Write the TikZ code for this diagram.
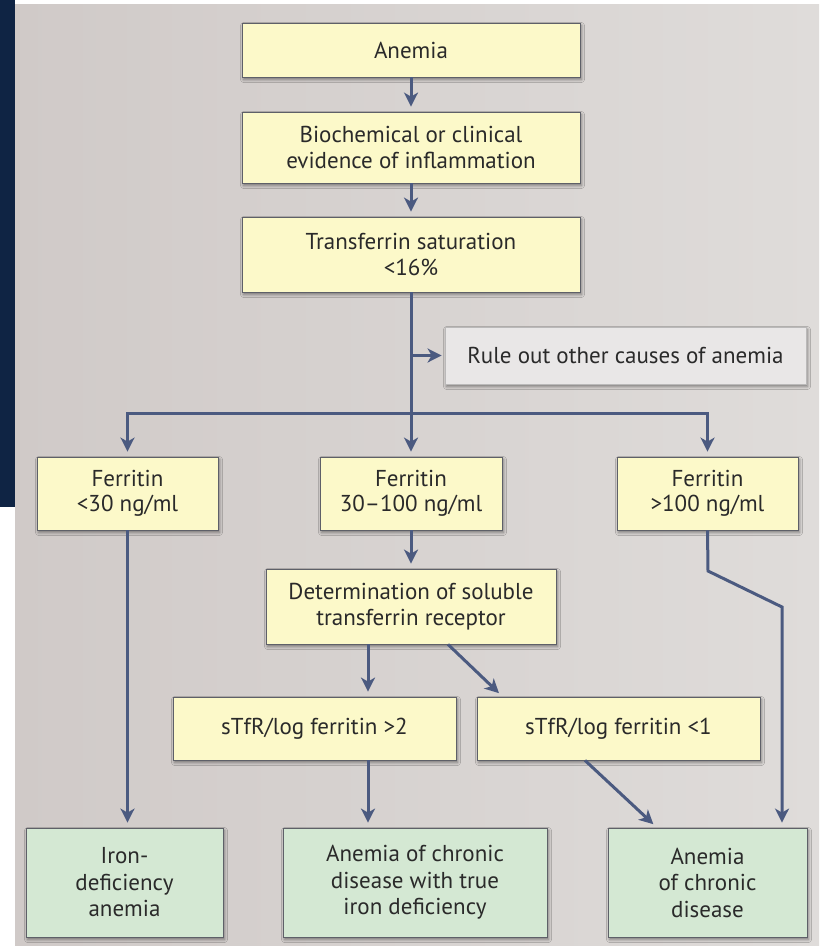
\documentclass[tikz,border=0pt]{standalone}
\usepackage{fontspec}
\setmainfont{PT Sans}
\usetikzlibrary{arrows.meta,shadows.blur}
\definecolor{navy}{HTML}{0F2444}
\definecolor{bgl}{HTML}{D0CAC8}
\definecolor{bgr}{HTML}{DFDCDA}
\definecolor{yel}{HTML}{FCF9C9}
\definecolor{grn}{HTML}{D4E8D3}
\definecolor{rulebg}{HTML}{E9E7E7}
\definecolor{edge}{HTML}{4B5A80}
\definecolor{bord}{HTML}{5E6068}
\definecolor{txt}{HTML}{2A2A2A}
\tikzset{
  box/.style={draw=bord, line width=0.8pt, fill=yel, text=txt, align=center,
    inner sep=0pt, font=\fontsize{23}{25.5}\selectfont,
    blur shadow={shadow xshift=1.5pt, shadow yshift=-2.5pt, shadow blur radius=3pt, shadow opacity=45}},
  gbox/.style={box, fill=grn, font=\fontsize{23}{26.5}\selectfont},
  rbox/.style={box, fill=rulebg, draw=rulebg!80!black},
  conn/.style={draw=edge, line width=3pt, -{Stealth[length=14pt,width=14pt,inset=4pt]}, shorten >=5pt},
  link/.style={draw=edge, line width=3pt}
}
\begin{document}
\begin{tikzpicture}[x=1pt,y=-1pt]
\useasboundingbox (0,0) rectangle (819,947);
\fill[white] (0,0) rectangle (819,947);
\shade[left color=bgl, right color=bgr] (15,5) rectangle (819,945);
\fill[navy] (0,0) rectangle (15,507);

% top column
\node[box, minimum width=338pt, minimum height=54pt] (anemia) at (411,50) {Anemia};
\node[box, minimum width=338pt, minimum height=71pt] (bio) at (411,147.5) {Biochemical or clinical\\evidence of inflammation};
\node[box, minimum width=338pt, minimum height=75pt] (tsat) at (411,254.5) {Transferrin saturation\\<16\%};
\node[rbox, minimum width=361pt, minimum height=57pt] (rule) at (625.5,355.5) {Rule out other causes of anemia};

% ferritin row
\node[box, minimum width=181pt, minimum height=73pt] (f30) at (127.5,493.5) {Ferritin\\<30 ng/ml};
\node[box, minimum width=182pt, minimum height=73pt] (f30100) at (411,493.5) {Ferritin\\30–100 ng/ml};
\node[box, minimum width=181pt, minimum height=73pt] (f100) at (707.5,493.5) {Ferritin\\>100 ng/ml};

% sTfR
\node[box, minimum width=290pt, minimum height=75pt] (det) at (411,606.5) {Determination of soluble\\transferrin receptor};
\node[box, minimum width=283pt, minimum height=63pt] (s2) at (314.5,728.5) {sTfR/log ferritin >2};
\node[box, minimum width=283pt, minimum height=63pt] (s1) at (618.5,728.5) {sTfR/log ferritin <1};

% outcomes
\node[gbox, minimum width=197pt, minimum height=109pt] (g1) at (124.5,882.5) {Iron-\\deficiency\\anemia};
\node[gbox, minimum width=264pt, minimum height=109pt] (g2) at (415,882.5) {Anemia of chronic\\disease with true\\iron deficiency};
\node[gbox, minimum width=199pt, minimum height=109pt] (g3) at (707.5,882.5) {Anemia\\of chronic\\disease};

% connectors
\draw[conn] (anemia) -- (bio);
\draw[conn] (bio) -- (tsat);
\draw[conn] (tsat) -- (f30100);
\draw[conn, shorten >=3pt] (tsat.south |- rule.west) -- (rule.west);
\coordinate (split) at (411,413);
\draw[link] ([xshift=-1.5pt]f30.north |- split) -- ([xshift=1.5pt]f100.north |- split);
\draw[conn] (f30.north |- split) -- (f30.north);
\draw[conn] (f100.north |- split) -- (f100.north);

\draw[conn] (f30100) -- (det);
\draw[conn] ([xshift=-43pt]det.south) -- ([xshift=-43pt]det.south |- s2.north);
\draw[conn] ([xshift=37pt]det.south) -- ([xshift=26pt]s1.north west);

\draw[conn] (f30.south) -- (f30.south |- g1.north);
\draw[conn] ([xshift=53.5pt]s2.south) -- ([xshift=53.5pt]s2.south |- g2.north);
\draw[conn] ([xshift=-33.5pt]s1.south) -- ([xshift=-50.5pt]g3.north);

\coordinate (b1) at (708,571);
\coordinate (b2) at (782,607);
\draw[conn] (f100.south) -- (b1) -- (b2) -- (b2 |- g3.north);
\end{tikzpicture}
\end{document}
